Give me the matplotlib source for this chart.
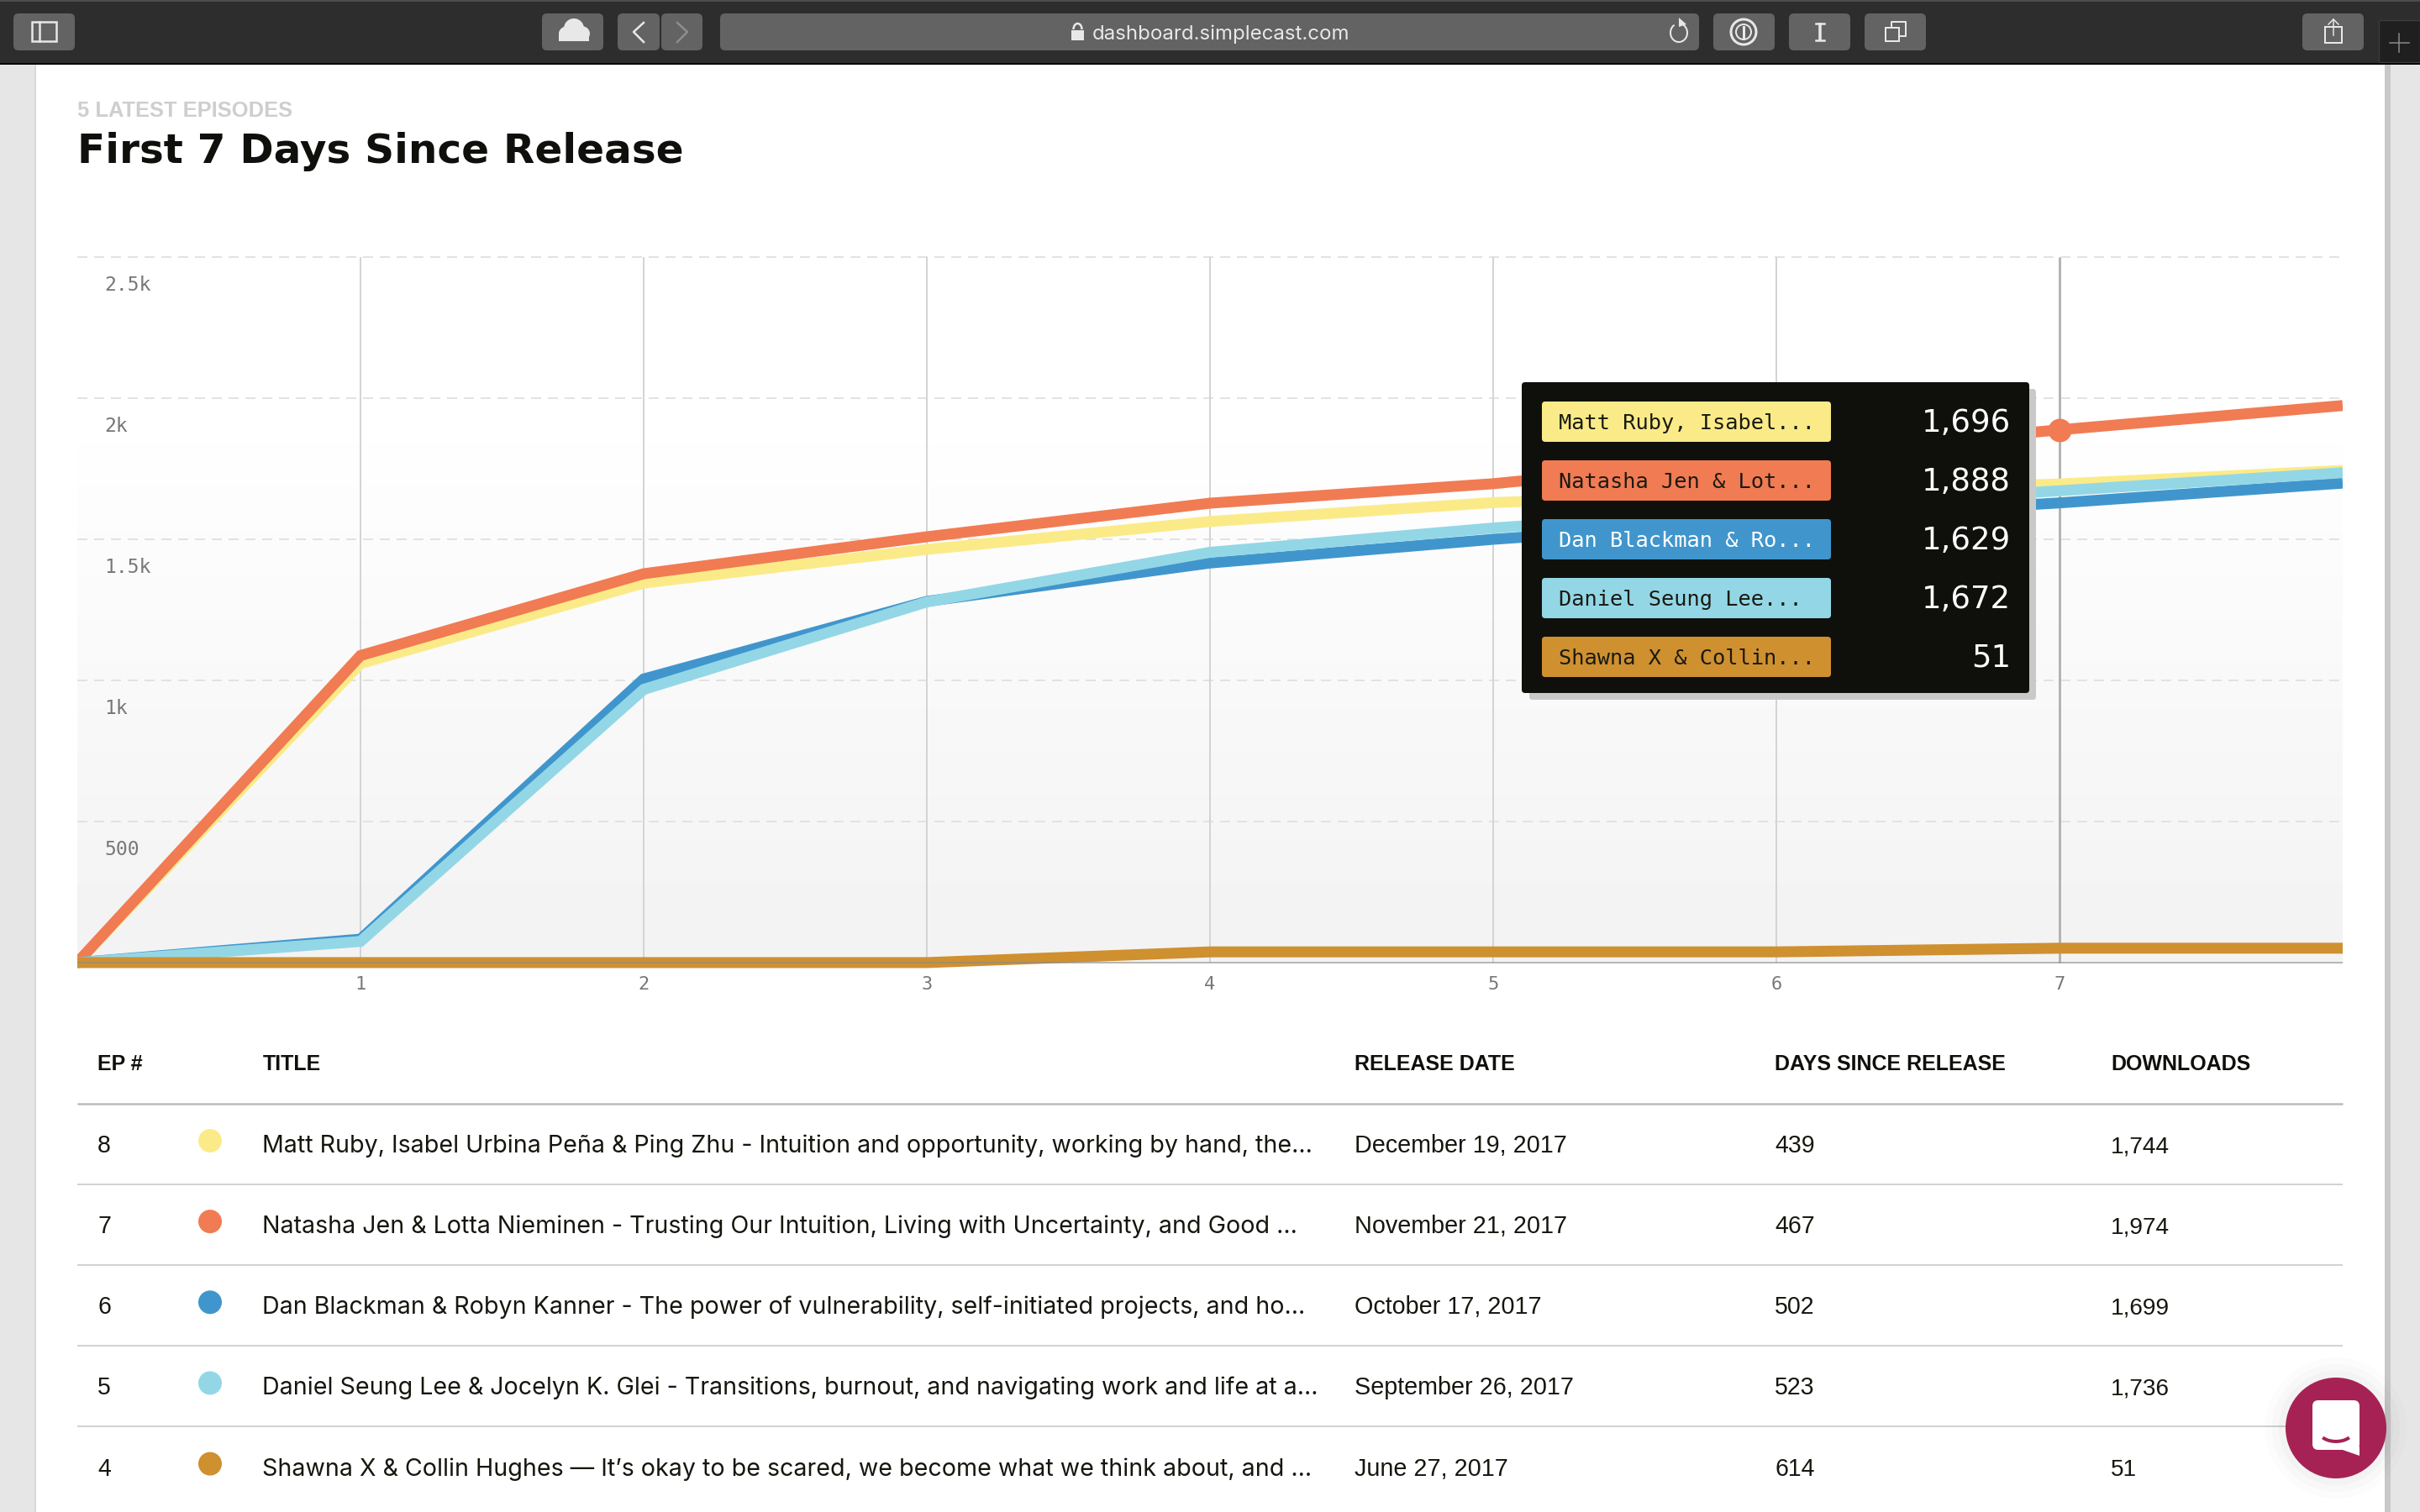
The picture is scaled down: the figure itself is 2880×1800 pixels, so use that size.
import numpy as np
import matplotlib
matplotlib.use('Agg')
import matplotlib.pyplot as plt
from matplotlib.patches import FancyBboxPatch, Circle, Arc, Polygon, Rectangle, Ellipse

# chart values, first 7 days + the partial 8th
days = [0, 1, 2, 3, 4, 5, 6, 7, 8]
matt = [0, 1060, 1345, 1464, 1563, 1630, 1665, 1696, 1744]
natasha = [0, 1088, 1378, 1509, 1628, 1697, 1795, 1888, 1974]
dan = [0, 83, 1005, 1280, 1416, 1500, 1570, 1629, 1699]
daniel = [0, 75, 968, 1278, 1454, 1540, 1610, 1672, 1736]
shawna = [0, 0, 0, 0, 38, 38, 38, 51, 51]

grid_vals = [500, 1000, 1500, 2000, 2500]
grid_labels = ['500', '1k', '1.5k', '2k', '2.5k']
hover_day = 7

# table + tooltip text
ep_nums = ['8', '7', '6', '5', '4']
titles = [
    'Matt Ruby, Isabel Urbina Peña & Ping Zhu - Intuition and opportunity, working by hand, the...',
    'Natasha Jen & Lotta Nieminen - Trusting Our Intuition, Living with Uncertainty, and Good ...',
    'Dan Blackman & Robyn Kanner - The power of vulnerability, self-initiated projects, and ho...',
    'Daniel Seung Lee & Jocelyn K. Glei - Transitions, burnout, and navigating work and life at a...',
    'Shawna X & Collin Hughes — It’s okay to be scared, we become what we think about, and ...',
]
release_dates = ['December 19, 2017', 'November 21, 2017', 'October 17, 2017',
                 'September 26, 2017', 'June 27, 2017']
days_since = ['439', '467', '502', '523', '614']
downloads = ['1,744', '1,974', '1,699', '1,736', '51']
tip_labels = ['Matt Ruby, Isabel...', 'Natasha Jen & Lot...', 'Dan Blackman & Ro...',
              'Daniel Seung Lee...', 'Shawna X & Collin...']
tip_values = ['1,696', '1,888', '1,629', '1,672', '51']
tip_text_colors = ['#1a1a12', '#1a1a12', '#ffffff', '#1a1a12', '#1a1a12']

YELLOW, ORANGE, BLUE, SKY, OCHRE = '#fbeb88', '#f17b53', '#4096cc', '#93d7e6', '#cf9030'
colors = [YELLOW, ORANGE, BLUE, SKY, OCHRE]

W, H, DPI = 2880, 1800, 100
SANS = 'Liberation Sans'
BODY = 'Inter'
WIDE = 'DejaVu Sans'
MONO = 'DejaVu Sans Mono'


def pt(px):
    return px * 72 / DPI


def rbox(ax, x0, y0, x1, y1, color, r=6, z=2):
    ax.add_patch(FancyBboxPatch((x0, y0), x1 - x0, y1 - y0, boxstyle='round,pad=0,rounding_size=%g' % r,
                                fc=color, ec='none', zorder=z))


fig = plt.figure(figsize=(W / DPI, H / DPI), dpi=DPI, facecolor='white')


def page_axes(z):
    a = fig.add_axes([0, 0, 1, 1], zorder=z)
    a.set_xlim(0, W)
    a.set_ylim(H, 0)
    a.axis('off')
    a.patch.set_alpha(0)
    return a


bg = page_axes(0)
top = page_axes(2)

# page sides
bg.add_patch(Rectangle((0, 0), 41, H, fc='#e6e6e6', ec='none'))
bg.add_patch(Rectangle((41, 0), 2, H, fc='#d8d8d8', ec='none'))
bg.add_patch(Rectangle((2838, 0), 7, H, fc='#c8c8c8', ec='none'))
bg.add_patch(Rectangle((2845, 0), 35, H, fc='#e6e6e6', ec='none'))

# browser toolbar
bg.add_patch(Rectangle((0, 0), W, 75, fc='#2d2d2d', ec='none', zorder=3))
bg.add_patch(Rectangle((0, 0), W, 2, fc='#4c4c4c', ec='none', zorder=3))
bg.add_patch(Rectangle((0, 75), W, 2, fc='#000000', ec='none', zorder=3))
for x0, x1 in [(16, 89), (645, 718), (735, 785), (787, 836), (857, 2022),
               (2039, 2112), (2129, 2202), (2219, 2292), (2740, 2813)]:
    rbox(bg, x0, 16, x1, 60, '#636363', r=6, z=4)
bg.add_patch(Rectangle((2831, 24), 49, 50, fc='#1f1f1f', ec='#3c3c3c', lw=1, zorder=4))
ICON = '#e8e8e8'
# sidebar icon
bg.add_patch(Rectangle((38, 26), 29, 23, fc='none', ec=ICON, lw=pt(2.5), zorder=5))
bg.plot([47, 47], [26, 49], color=ICON, lw=pt(2.5), zorder=5)
# cloud
for cx, cy, rx, ry in [(676, 40, 11, 9), (683, 34, 12, 12), (692, 40, 10, 9)]:
    bg.add_patch(Ellipse((cx, cy), rx * 2, ry * 2, fc=ICON, ec='none', zorder=5))
bg.add_patch(Rectangle((665, 39), 36, 10, fc=ICON, ec='none', zorder=5))
# back / forward
bg.plot([766, 754, 766], [27, 38, 50], color=ICON, lw=pt(2.5), zorder=5)
bg.plot([806, 818, 806], [27, 38, 50], color='#8e8e8e', lw=pt(2.5), zorder=5)
# lock + url
bg.add_patch(Rectangle((1275, 36), 15, 12, fc=ICON, ec='none', zorder=5))
bg.add_patch(Arc((1282.5, 35), 10, 14, theta1=180, theta2=360, ec=ICON, lw=pt(2.5), zorder=5))
bg.text(1300, 47, 'dashboard.simplecast.com', family=BODY, fontsize=pt(24), color='#e8e8e8', zorder=5)
# reload
bg.add_patch(Arc((1998, 39), 20, 22, theta1=-60, theta2=240, ec=ICON, lw=pt(2), zorder=5))
bg.add_patch(Polygon([[1998, 21], [2007, 29], [1998, 32]], fc=ICON, ec='none', zorder=5))
# password manager
bg.add_patch(Circle((2075, 38), 15, fc='none', ec=ICON, lw=pt(3), zorder=5))
bg.add_patch(Circle((2075, 38), 9, fc='none', ec=ICON, lw=pt(2), zorder=5))
bg.plot([2075, 2075], [32, 44], color=ICON, lw=pt(3), zorder=5)
# reader I
bg.plot([2166, 2166], [29, 47], color=ICON, lw=pt(3.5), zorder=5)
bg.plot([2161, 2171], [28, 28], color=ICON, lw=pt(2.5), zorder=5)
bg.plot([2161, 2171], [48, 48], color=ICON, lw=pt(2.5), zorder=5)
# tabs
bg.add_patch(Rectangle((2244, 33), 16, 16, fc='none', ec=ICON, lw=pt(2), zorder=5))
bg.plot([2251, 2251, 2268, 2268, 2262], [33, 26, 26, 43, 43], color=ICON, lw=pt(2), zorder=5)
# share
bg.add_patch(Rectangle((2767, 32), 20, 19, fc='none', ec=ICON, lw=pt(2), zorder=5))
bg.plot([2777, 2777], [23, 42], color=ICON, lw=pt(1.5), zorder=5)
bg.plot([2771, 2777, 2783], [29, 23, 29], color=ICON, lw=pt(1.5), zorder=5)
# new tab plus
bg.plot([2855, 2855], [40, 62], color='#8c8c8c', lw=pt(1.5), zorder=5)
bg.plot([2844, 2867], [51, 51], color='#8c8c8c', lw=pt(1.5), zorder=5)

# heading
bg.text(92, 139, '5 LATEST EPISODES', family=SANS, weight='bold', fontsize=pt(25.5), color='#cecece')
bg.text(92, 194, 'First 7 Days Since Release', family=WIDE, weight='bold', fontsize=pt(48.5), color='#0f100c')

# chart axes: 337 px per day, 168 px per 500 downloads
ax = fig.add_axes([92 / W, 1 - 1153 / H, 2696 / W, (1153 - 296) / H], zorder=1)
ax.patch.set_alpha(0)
ax.set_axisbelow(False)
for s in ax.spines.values():
    s.set_visible(False)

shade = np.linspace(0.95, 1.0, 64).reshape(-1, 1)
ax.imshow(shade, origin='lower', extent=(0, 8, 0, 2000), aspect='auto', cmap='gray',
          vmin=0, vmax=1, zorder=0)

for v in grid_vals:
    ax.axhline(v, color='#e2e2e2', lw=pt(2), dashes=(6, 4), zorder=1)
for d in days[1:8]:
    ax.vlines(d, 0, 2500, color='#b4b4b4' if d == hover_day else '#d4d4d4',
              lw=pt(3 if d == hover_day else 2), zorder=1)

for series, c in zip([matt, natasha, dan, daniel, shawna], colors):
    ax.plot(days, series, color=c, lw=pt(13), solid_joinstyle='miter', solid_capstyle='butt', zorder=3)
ax.axhline(0, color='#8a8a8a', lw=pt(2), alpha=0.6, zorder=4)
ax.plot([hover_day], [natasha[hover_day]], 'o', color=ORANGE, ms=pt(28), mew=0, zorder=5)

ax.set_xlim(0, 8)
ax.set_ylim(-21, 2530)
ax.set_xticks(days[1:8])
ax.set_xticklabels([str(d) for d in days[1:8]], family=MONO, fontsize=pt(22), color='#777777')
ax.set_yticks([])
ax.tick_params(axis='x', length=0, pad=pt(9))
for v, lab in zip(grid_vals, grid_labels):
    ax.annotate(lab, (0, v), xytext=(pt(32), -pt(40)), textcoords='offset points', family=MONO,
                fontsize=pt(23), color='#777777', va='baseline', ha='left', zorder=2)

# tooltip
rbox(top, 1820, 463, 2423, 833, '#c9c9c9', r=4, z=1)
rbox(top, 1811, 455, 2415, 825, '#0f100c', r=4, z=2)
for i in range(5):
    cy = 502 + 70 * i
    rbox(top, 1835, cy - 24, 2179, cy + 24, colors[i], r=4, z=3)
    top.text(1855, cy + 9, tip_labels[i], family=MONO, fontsize=pt(25.4), color=tip_text_colors[i], zorder=4)
    top.text(2393, cy + 12, tip_values[i], family=WIDE, fontsize=pt(37), color='white', ha='right', zorder=4)

# table
header_y = 1274.5
for x, lab in [(116, 'EP #'), (312.5, 'TITLE'), (1612, 'RELEASE DATE'), (2112, 'DAYS SINCE RELEASE'),
               (2512, 'DOWNLOADS')]:
    bg.text(x, header_y, lab, family=SANS, weight='bold', fontsize=pt(25), color='#0f100c')
bg.plot([92, 2788], [1313.6, 1313.6], color='#bcbcbc', lw=pt(2.5), solid_capstyle='butt')
for i in range(5):
    base = 1372 + 96.15 * i
    if i < 4:
        liney = 1409.8 + 96.15 * i
        bg.plot([92, 2788], [liney, liney], color='#d2d2d2', lw=pt(2), solid_capstyle='butt')
    bg.add_patch(Circle((250, base - 14), 14, fc=colors[i], ec='none'))
    bg.text(116, base, ep_nums[i], family=SANS, fontsize=pt(28.5), color='#16160f')
    bg.text(312.5, base, titles[i], family=BODY, fontsize=pt(28.6), color='#16160f')
    bg.text(1612, base, release_dates[i], family=SANS, fontsize=pt(28.8), color='#16160f')
    bg.text(2112, base, days_since[i], family=SANS, fontsize=pt(28.5), color='#16160f')
    bg.text(2512, base, downloads[i], family=SANS, fontsize=pt(28), color='#16160f')

# chat button
for r, a in [(84, 0.012), (76, 0.015), (68, 0.02)]:
    top.add_patch(Circle((2780, 1700), r, fc='black', alpha=a, ec='none', zorder=5))
top.add_patch(Circle((2780, 1700), 60, fc='#a62254', ec='none', zorder=6))
rbox(top, 2752, 1667, 2808, 1726, 'white', r=7, z=7)
top.add_patch(Polygon([[2785, 1725], [2808, 1722], [2808, 1733]], fc='white', ec='none', zorder=7))
top.add_patch(Arc((2780, 1704), 40, 24, theta1=25, theta2=155, ec='#a62254', lw=pt(4), zorder=8))

fig.savefig('out.png', dpi=DPI)
